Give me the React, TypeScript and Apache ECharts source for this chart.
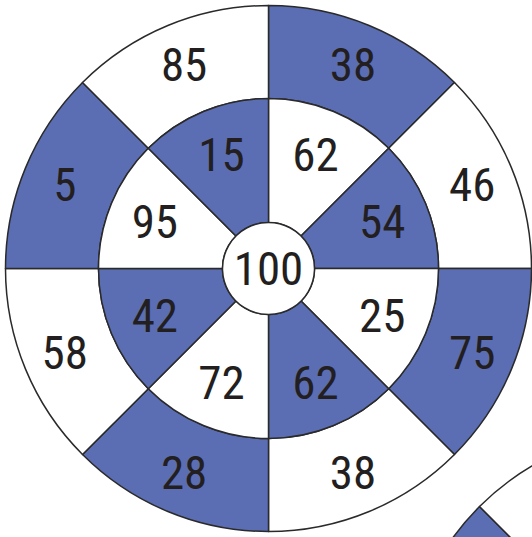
import React, { useEffect, useRef } from "react";
import * as echarts from "echarts";

// Dartboard data (clockwise from 12 o'clock)
const outerLabels = ["38", "46", "75", "38", "28", "58", "5", "85"];
const innerLabels = ["62", "54", "25", "62", "72", "42", "95", "15"];
const centerLabel = "100";
const sliceWeights = [1, 1, 1, 1, 1, 1, 1, 1];

const BLUE = "#5b6eb4";
const WHITE = "#ffffff";
const outerFills = [BLUE, WHITE, BLUE, WHITE, BLUE, WHITE, BLUE, WHITE];
const innerFills = [WHITE, BLUE, WHITE, BLUE, WHITE, BLUE, WHITE, BLUE];

const LINE = "#2a2a2a";
const TEXT = "#231f20";
const FONT = "Roboto, 'Open Sans', sans-serif";
const FSIZE = 47;

const C1 = [268.5, 268.5];
const C2 = [665.5, 692.5];

function ring(center: number[], radius: number[], fills: string[], z: number) {
  return {
    type: "pie",
    center,
    radius,
    startAngle: 90,
    clockwise: true,
    silent: true,
    avoidLabelOverlap: false,
    z,
    label: { show: false },
    labelLine: { show: false },
    emphasis: { disabled: true },
    itemStyle: { borderColor: LINE, borderWidth: 1.5 },
    data: sliceWeights.map((w, i) => ({ value: w, name: String(i), itemStyle: { color: fills[i] } })),
  };
}

function labels(center: number[], radius: number[], names: string[], z: number) {
  return {
    type: "pie",
    center,
    radius,
    startAngle: 90,
    clockwise: true,
    silent: true,
    avoidLabelOverlap: false,
    z,
    labelLine: { show: false },
    emphasis: { disabled: true },
    itemStyle: { color: "transparent", borderWidth: 0 },
    label: {
      show: true,
      position: "inside",
      formatter: "{b}",
      fontSize: FSIZE,
      fontFamily: FONT,
      color: TEXT,
    },
    data: sliceWeights.map((w, i) => ({ value: w, name: names[i] })),
  };
}

export default function App() {
  const ref = useRef<HTMLDivElement>(null);
  useEffect(() => {
    if (!ref.current) return;
    const chart = echarts.init(ref.current, undefined, { renderer: "svg" });
    chart.setOption({
      animation: false,
      backgroundColor: "#ffffff",
      series: [
        ring(C1, [170, 263], outerFills, 1),
        ring(C1, [46, 170], innerFills, 2),
        {
          type: "pie",
          center: C1,
          radius: [0, 46],
          silent: true,
          z: 3,
          labelLine: { show: false },
          emphasis: { disabled: true },
          itemStyle: { color: WHITE, borderColor: LINE, borderWidth: 1.5 },
          label: {
            show: true,
            position: "center",
            formatter: "{b}",
            fontSize: FSIZE,
            fontFamily: FONT,
            color: TEXT,
          },
          data: [{ value: 1, name: centerLabel }],
        },
        labels(C1, [172, 263], outerLabels, 4),
        labels(C1, [70, 170], innerLabels, 4),
        ring(C2, [170, 263], outerFills, 1),
        ring(C2, [46, 170], innerFills, 2),
      ],
    });
    return () => chart.dispose();
  }, []);
  return (
    <>
      <style>{"#dartboard text { font-stretch: condensed !important; }"}</style>
      <div
        id="dartboard"
        ref={ref}
        style={{ position: "fixed", left: 0, top: 0, width: 532, height: 537, background: "#fff" }}
      />
    </>
  );
}
